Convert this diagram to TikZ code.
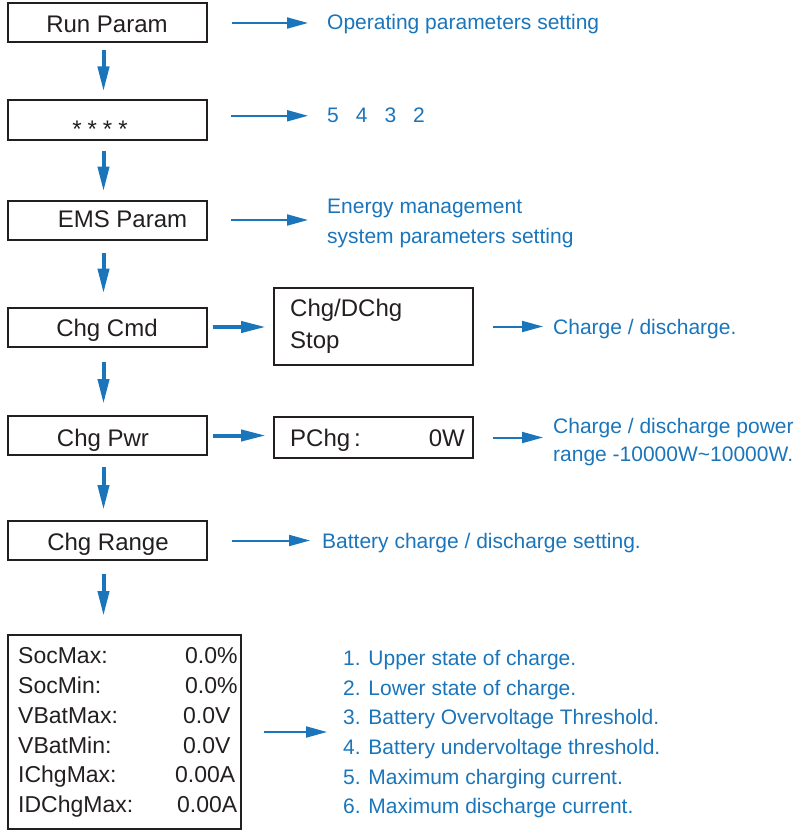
\documentclass[tikz,border=0pt]{standalone}
\usepackage{fontspec}
\setmainfont{Liberation Sans}
\usetikzlibrary{arrows.meta,calc}
\definecolor{ablue}{HTML}{1A75BB}
\definecolor{ink}{HTML}{231F20}
\begin{document}
\begin{tikzpicture}[x=1pt,y=-1pt,
  box/.style={draw=ink, line width=2pt, inner sep=0pt, minimum width=199pt, minimum height=39pt},
  btxt/.style={anchor=base, inner sep=0pt, text=ink, font=\fontsize{24}{28}\selectfont},
  bltxt/.style={anchor=base west, inner sep=0pt, text=ink, font=\fontsize{24}{28}\selectfont},
  ltxt/.style={anchor=base west, inner sep=0pt, text=ink, font=\fontsize{23}{28}\selectfont},
  ntxt/.style={anchor=base west, inner sep=0pt, text=ablue, font=\fontsize{21}{30}\selectfont},
  thickarrow/.style={draw=ablue, line width=4pt, -{Triangle[length=25pt,width=11pt]}},
  thinarrow/.style={draw=ablue, line width=2pt, -{Triangle[length=21pt,width=11pt]}},
]
\useasboundingbox (0,0) rectangle (801,832);

% left column boxes
\node[box] (run)   at (107,23)    {};
\node[box] (pwd)   at (107,120)   {};
\node[box] (ems)   at (107,220)   {};
\node[box] (cmd)   at (107,327)   {};
\node[box] (pwr)   at (107,435.5) {};
\node[box] (range) at (107,540.5) {};
\node[box, minimum width=233pt, minimum height=194pt] (big) at (124.5,732) {};

% middle boxes
\node[box, minimum height=77pt] (cd)   at (373.5,326.5) {};
\node[box, minimum height=41pt] (pchg) at (373.5,437.5) {};

% box texts
\node[btxt] (lrun)   at (107,33)    {Run Param};
\node[btxt] (lpwd)   at (100,137)   {*\hspace{6pt}*\hspace{6pt}*\hspace{6pt}*};
\node[btxt] (lems)   at (122.5,227) {EMS Param};
\node[btxt] (lcmd)   at (107,336)   {Chg Cmd};
\node[btxt] (lpwr)   at (103,446)   {Chg Pwr};
\node[btxt] (lrange) at (108,550)   {Chg Range};
\node[bltxt] (lcd1)  at (290,316)   {Chg/DChg};
\node[bltxt] (lcd2)  at (290,348)   {Stop};
\node[bltxt] (lp1)   at (290,446)   {PChg\hspace{4pt}:};
\node[btxt, anchor=base east] (lp2) at (465,446) {0W};

% big box rows
\node[ltxt] (r1) at (18,663) {SocMax:};
\node[ltxt] (r2) at (18,693) {SocMin:};
\node[ltxt] (r3) at (18,723) {VBatMax:};
\node[ltxt] (r4) at (18,753) {VBatMin:};
\node[ltxt] (r5) at (18,782) {IChgMax:};
\node[ltxt] (r6) at (18,812) {IDChgMax:};
\node[ltxt] (v1) at (185,663) {0.0\%};
\node[ltxt] (v2) at (185,693) {0.0\%};
\node[ltxt] (v3) at (183,723) {0.0V};
\node[ltxt] (v4) at (183,753) {0.0V};
\node[ltxt] (v5) at (175,782) {0.00A};
\node[ltxt] (v6) at (177,812) {0.00A};

% blue notes
\node[ntxt] (t1)  at (327,30)  {Operating parameters setting};
\node[ntxt] (t2)  at (327,123) {5\hspace{17pt}4\hspace{17pt}3\hspace{17pt}2};
\node[ntxt] (t3)  at (327,213) {Energy management};
\node[ntxt] (t3b) at (327,243) {system parameters setting};
\node[ntxt] (t4)  at (553,334) {Charge / discharge.};
\node[ntxt] (t5)  at (553,433) {Charge / discharge power};
\node[ntxt] (t5b) at (553,461) {range -10000W\textasciitilde 10000W.};
\node[ntxt] (t6)  at (322,548) {Battery charge / discharge setting.};
\node[ntxt] (n1) at (343,665) {1. Upper state of charge.};
\node[ntxt] (n2) at (343,695) {2. Lower state of charge.};
\node[ntxt] (n3) at (343,724) {3. Battery Overvoltage Threshold.};
\node[ntxt] (n4) at (343,754) {4. Battery undervoltage threshold.};
\node[ntxt] (n5) at (343,784) {5. Maximum charging current.};
\node[ntxt] (n6) at (343,813) {6. Maximum discharge current.};

% down arrows
\draw[thickarrow, shorten <=7pt,  shorten >=8pt]  ([xshift=-3.5pt]run.south)   -- ([xshift=-3.5pt]pwd.north);
\draw[thickarrow, shorten <=10pt, shorten >=8pt]  ([xshift=-3.5pt]pwd.south)   -- ([xshift=-3.5pt]ems.north);
\draw[thickarrow, shorten <=12pt, shorten >=13pt] ([xshift=-3.5pt]ems.south)   -- ([xshift=-3.5pt]cmd.north);
\draw[thickarrow, shorten <=14pt, shorten >=11pt] ([xshift=-3.5pt]cmd.south)   -- ([xshift=-3.5pt]pwr.north);
\draw[thickarrow, shorten <=11pt, shorten >=10pt] ([xshift=-3.5pt]pwr.south)   -- ([xshift=-3.5pt]range.north);
\draw[thickarrow, shorten <=13pt, shorten >=18pt] ([xshift=-3.5pt]range.south) -- ([xshift=-3.5pt]range.south |- big.north);

% right thick arrows
\draw[thickarrow, shorten <=5pt, shorten >=7pt] (cmd.east) -- (cmd.east -| cd.west);
\draw[thickarrow, shorten <=5pt, shorten >=7pt] (pwr.east) -- (pwr.east -| pchg.west);

% right thin arrows
\draw[thinarrow, shorten <=24pt, shorten >=19pt] (run.east) -- (run.east -| t1.west);
\draw[thinarrow, shorten <=23pt, shorten >=19pt] (pwd.east |- t2.west) -- (t2.west);
\draw[thinarrow, shorten <=23pt, shorten >=19pt] (ems.east) -- (ems.east -| t3.west);
\draw[thinarrow, shorten <=19pt, shorten >=10pt] (cd.east) -- (cd.east -| t4.west);
\draw[thinarrow, shorten <=19pt, shorten >=10pt] (pchg.east) -- (pchg.east -| t5.west);
\draw[thinarrow, shorten <=24pt, shorten >=12pt] (range.east) -- (range.east -| t6.west);
\draw[thinarrow, shorten <=22pt, shorten >=16pt] (big.east) -- (big.east -| n1.west);
\end{tikzpicture}
\end{document}
